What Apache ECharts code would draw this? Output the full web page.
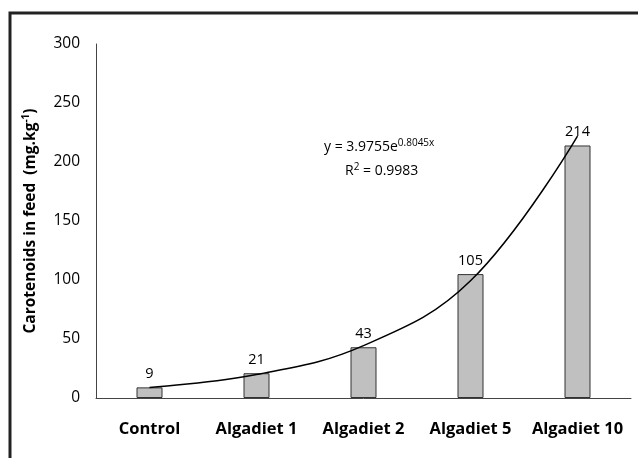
<!DOCTYPE html>
<html><head><meta charset="utf-8">
<script src="https://cdn.jsdelivr.net/npm/echarts@6/dist/echarts.min.js"></script>
<style>html,body{margin:0;padding:0;background:#fff}#c{width:638px;height:458px}</style>
</head><body><div id="c"></div>
<script>
var categories = ['Control', 'Algadiet 1', 'Algadiet 2', 'Algadiet 5', 'Algadiet 10'];
var values = [9, 21, 43, 105, 214];
// exponential trendline at each category
var trendValues = [8.9, 19.9, 44.4, 99.3, 222];
var yTicks = {min: 0, max: 300, interval: 50};

var chart = echarts.init(document.getElementById('c'));
var font = '"Open Sans", "Liberation Sans", sans-serif';
chart.setOption({
  animation: false,
  backgroundColor: '#fff',
  grid: {left: 96, right: 7, top: 44, bottom: 60},
  graphic: [
    {type: 'rect', shape: {x: 10, y: 13, width: 700, height: 500},
     style: {fill: 'none', stroke: '#222', lineWidth: 3}, silent: true},
    {type: 'text', left: 324, top: 138,
     style: {text: '{a|y = 3.9755e}{s|0.8045x}',
       rich: {a: {fontSize: 14, fontFamily: font, fill: '#000'},
              s: {fontSize: 10, fontFamily: font, fill: '#000', padding: [0,0,9,0]}}}},
    {type: 'text', left: 345, top: 162,
     style: {text: '{a|R}{s|2}{a| = 0.9983}',
       rich: {a: {fontSize: 14, fontFamily: font, fill: '#000'},
              s: {fontSize: 10, fontFamily: font, fill: '#000', padding: [0,0,9,0]}}}}
  ],
  xAxis: {
    type: 'category', data: categories,
    axisLine: {lineStyle: {color: '#444', width: 1}},
    axisTick: {show: false},
    axisLabel: {color: '#000', fontWeight: 'bold', fontSize: 16.5, fontFamily: font, margin: 23, interval: 0}
  },
  yAxis: {
    type: 'value', min: yTicks.min, max: yTicks.max, interval: yTicks.interval,
    name: '{b|Carotenoids in feed  (mg.kg}{s|-1}{b|)}',
    nameLocation: 'middle', nameGap: 56, nameRotate: 90,
    nameTextStyle: {rich: {b: {fontSize: 15.5, fontWeight: 'bold', fontFamily: font, color: '#000'},
                           s: {fontSize: 10, fontWeight: 'bold', fontFamily: font, color: '#000', padding: [0,0,9,0]}}},
    axisLine: {show: true, lineStyle: {color: '#444', width: 1}},
    axisTick: {show: false},
    splitLine: {show: false},
    axisLabel: {color: '#000', fontSize: 15.5, fontFamily: font, margin: 16}
  },
  series: [
    {type: 'bar', data: values, barWidth: 26,
     itemStyle: {color: '#c0c0c0', borderColor: '#333', borderWidth: 1},
     label: {show: true, position: 'top', distance: 6, color: '#000', fontSize: 14.5, fontFamily: font}},
    {type: 'line', data: trendValues, smooth: 0.4, symbol: 'none',
     lineStyle: {color: '#000', width: 1.5}, z: 5}
  ]
});
</script></body></html>
